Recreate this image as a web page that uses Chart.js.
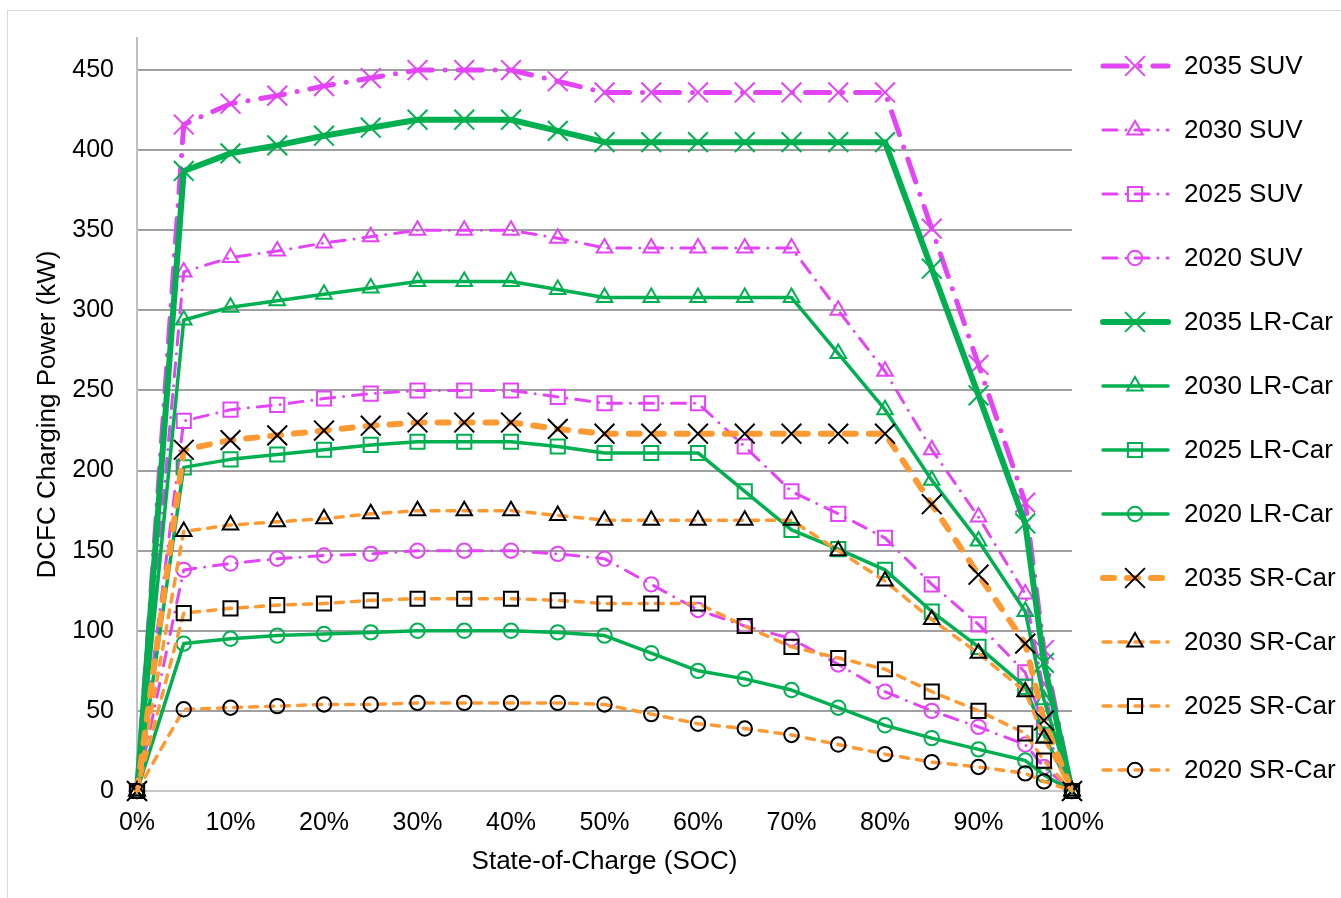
<!DOCTYPE html>
<html>
<head>
<meta charset="utf-8">
<script src="https://cdn.jsdelivr.net/npm/chart.js@4.4.1/dist/chart.umd.min.js"></script>
<style>
  body { margin: 0; background: #fff; overflow: hidden; }
  #wrap { position: relative; width: 1341px; height: 898px; }
  #frame { position: absolute; left: 7px; top: 10px; width: 1360px; height: 900px; border: 1px solid #d9d9d9; }
  canvas { position: absolute; left: 0; top: 0; }
</style>
</head>
<body>
<div id="wrap">
  <div id="frame"></div>
  <canvas id="myChart" width="1341" height="898"></canvas>
</div>
<script>
// data
const soc = [0, 5, 10, 15, 20, 25, 30, 35, 40, 45, 50, 55, 60, 65, 70, 75, 80, 85, 90, 95, 97, 100];

const suv2035 = [0, 416, 429, 434, 440, 445, 450, 450, 450, 443, 436, 436, 436, 436, 436, 436, 436, 351, 266, 180, 88, 0];
const suv2030 = [0, 324, 333, 337, 342, 346, 350, 350, 350, 345, 339, 339, 339, 339, 339, 300, 262, 213, 171, 123, 62, 0];
const suv2025 = [0, 231, 238, 241, 245, 248, 250, 250, 250, 246, 242, 242, 242, 215, 187, 173, 158, 129, 104, 74, 40, 0];
const suv2020 = [0, 138, 142, 145, 147, 148, 150, 150, 150, 148, 145, 129, 113, 103, 95, 79, 62, 50, 40, 29, 15, 0];

const lr2035 = [0, 387, 398, 403, 409, 414, 419, 419, 419, 412, 405, 405, 405, 405, 405, 405, 405, 326, 247, 167, 80, 0];
const lr2030 = [0, 294, 302, 306, 310, 314, 318, 318, 318, 313, 308, 308, 308, 308, 308, 273, 238, 194, 156, 112, 57, 0];
const lr2025 = [0, 202, 207, 210, 213, 216, 218, 218, 218, 215, 211, 211, 211, 187, 163, 151, 138, 112, 90, 65, 35, 0];
const lr2020 = [0, 92, 95, 97, 98, 99, 100, 100, 100, 99, 97, 86, 75, 70, 63, 52, 41, 33, 26, 19, 10, 0];

const sr2035 = [0, 213, 219, 222, 225, 228, 230, 230, 230, 226, 223, 223, 223, 223, 223, 223, 223, 179, 135, 92, 44, 0];
const sr2030 = [0, 162, 166, 168, 170, 173, 175, 175, 175, 172, 169, 169, 169, 169, 169, 150, 131, 107, 86, 62, 33, 0];
const sr2025 = [0, 111, 114, 116, 117, 119, 120, 120, 120, 119, 117, 117, 117, 103, 90, 83, 76, 62, 50, 36, 19, 0];
const sr2020 = [0, 51, 52, 53, 54, 54, 55, 55, 55, 55, 54, 48, 42, 39, 35, 29, 23, 18, 15, 11, 6, 0];

const seriesNames = ["2035 SUV", "2030 SUV", "2025 SUV", "2020 SUV",
  "2035 LR-Car", "2030 LR-Car", "2025 LR-Car", "2020 LR-Car",
  "2035 SR-Car", "2030 SR-Car", "2025 SR-Car", "2020 SR-Car"];
const seriesValues = [suv2035, suv2030, suv2025, suv2020, lr2035, lr2030, lr2025, lr2020, sr2035, sr2030, sr2025, sr2020];

const xTitle = "State-of-Charge (SOC)";
const yTitle = "DCFC Charging Power (kW)";

const PINK = "#e244f6";
const GREEN = "#00b050";
const ORANGE = "#ff9a33";
const FONT = '"Liberation Sans", Arial, sans-serif';

// style per series: [line colour, width, dash, marker colour, marker, radius]
const styles = [
  [PINK, 5, [24, 13, 0, 13], PINK, "crossRot", 14],
  [PINK, 3, [14, 9, 0, 9], PINK, "triangle", 9],
  [PINK, 3, [14, 9, 0, 9], PINK, "rect", 10],
  [PINK, 3, [14, 9, 0, 9], PINK, "circle", 7.2],
  [GREEN, 6, [], GREEN, "crossRot", 14],
  [GREEN, 3.5, [], GREEN, "triangle", 9],
  [GREEN, 3.5, [], GREEN, "rect", 10],
  [GREEN, 3.5, [], GREEN, "circle", 7.2],
  [ORANGE, 6, [11, 13], "#000", "crossRot", 14],
  [ORANGE, 3.5, [8, 8], "#000", "triangle", 9],
  [ORANGE, 3.5, [8, 8], "#000", "rect", 10],
  [ORANGE, 3.5, [8, 8], "#000", "circle", 7.2],
];

const datasets = seriesNames.map((name, i) => {
  const s = styles[i];
  return {
    label: name,
    data: soc.map((x, j) => ({ x: x, y: seriesValues[i][j] })),
    borderColor: s[0],
    borderWidth: s[1],
    borderDash: s[2],
    borderCapStyle: "round",
    borderJoinStyle: "round",
    pointBorderColor: s[3],
    pointBackgroundColor: "rgba(0,0,0,0)",
    pointStyle: s[4],
    pointRadius: s[5],
    pointBorderWidth: 2,
    tension: 0,
    fill: false,
    clip: false,
    order: 12 - i,
  };
});

function drawMarker(ctx, style, r, x, y) {
  ctx.beginPath();
  if (style === "crossRot") {
    const d = r * Math.SQRT1_2;
    ctx.moveTo(x - d, y - d); ctx.lineTo(x + d, y + d);
    ctx.moveTo(x + d, y - d); ctx.lineTo(x - d, y + d);
  } else if (style === "rect") {
    const d = r * Math.SQRT1_2;
    ctx.rect(x - d, y - d, 2 * d, 2 * d);
  } else if (style === "triangle") {
    ctx.moveTo(x, y - r);
    ctx.lineTo(x + r * Math.sin(2 * Math.PI / 3), y - r * Math.cos(2 * Math.PI / 3));
    ctx.lineTo(x + r * Math.sin(4 * Math.PI / 3), y - r * Math.cos(4 * Math.PI / 3));
    ctx.closePath();
  } else {
    ctx.arc(x, y, r, 0, Math.PI * 2);
  }
  ctx.stroke();
}

// legend on the right: line sample + marker + label
const sideLegend = {
  id: "sideLegend",
  afterDraw(chart) {
    const ctx = chart.ctx;
    chart.data.datasets.forEach((ds, i) => {
      const y = 66 + i * 64;
      ctx.save();
      ctx.strokeStyle = ds.borderColor;
      ctx.lineWidth = ds.borderWidth;
      ctx.lineCap = "round";
      ctx.setLineDash(ds.borderDash);
      ctx.beginPath();
      ctx.moveTo(1103, y);
      ctx.lineTo(1168, y);
      ctx.stroke();
      ctx.setLineDash([]);
      ctx.strokeStyle = ds.pointBorderColor;
      ctx.lineWidth = ds.pointBorderWidth;
      ctx.lineCap = "butt";
      drawMarker(ctx, ds.pointStyle, ds.pointRadius, 1135, y);
      ctx.fillStyle = "#000";
      ctx.font = "26px " + FONT;
      ctx.textBaseline = "middle";
      ctx.fillText(ds.label, 1184, y + 1);
      ctx.restore();
    });
  },
};

const ctx = document.getElementById("myChart");

const chart = new Chart(ctx, {
  type: "line",
  data: { datasets: datasets },
  plugins: [sideLegend],
  options: {
    responsive: false,
    devicePixelRatio: 1,
    animation: false,
    events: [],
    layout: { padding: { left: 0, top: 37, right: 269, bottom: 21 } },
    plugins: { legend: { display: false }, tooltip: { enabled: false } },
    scales: {
      x: {
        type: "linear",
        min: 0,
        max: 100,
        ticks: {
          stepSize: 10,
          callback: (v) => v + "%",
          padding: 17,
          color: "#000",
          font: { size: 25, family: FONT },
          maxRotation: 0,
          autoSkip: false,
        },
        grid: { display: false, drawTicks: false },
        border: { color: "#c8c8c8", width: 2 },
        title: { display: true, text: xTitle, color: "#000", font: { size: 26, family: FONT }, padding: { top: 0, bottom: 0 } },
        afterFit: (s) => { s.height = 86; },
      },
      y: {
        min: 0,
        max: 470,
        ticks: {
          stepSize: 50,
          includeBounds: false,
          padding: 23,
          color: "#000",
          font: { size: 25, family: FONT },
        },
        grid: {
          drawTicks: false,
          lineWidth: 2,
          color: (c) => (c.tick && c.tick.value === 0 ? "#c8c8c8" : "#a0a0a0"),
        },
        border: { color: "#c0c0c0", width: 2 },
        title: { display: true, text: yTitle, color: "#000", font: { size: 26, family: FONT }, padding: { top: 32, bottom: 0 } },
        afterFit: (s) => { s.width = 137; },
      },
    },
  },
});
</script>
</body>
</html>
